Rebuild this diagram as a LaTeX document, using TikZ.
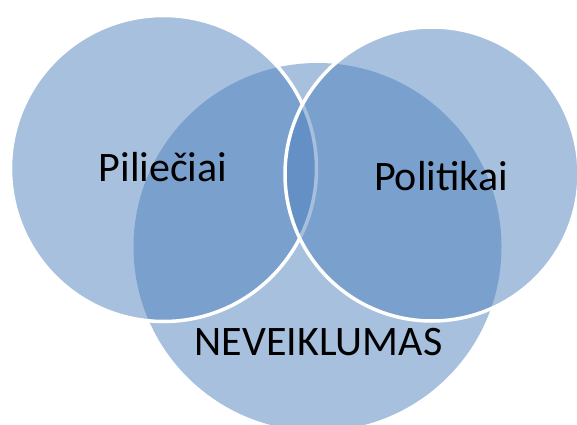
\documentclass[tikz,border=0pt]{standalone}
\usepackage{fontspec}
\setmainfont{Carlito}
\definecolor{accent}{HTML}{4F81BD}
\begin{document}
\begin{tikzpicture}[x=1pt,y=1pt,
  venn/.style={circle, inner sep=0pt, fill=accent, fill opacity=0.5},
  vennline/.style={venn, draw=white, draw opacity=1, line width=3.5pt},
  lbl/.style={inner sep=0pt, anchor=base, font=\fontsize{42}{50}\selectfont, text=black}]
\useasboundingbox (0,0) rectangle (577,424);
\node[venn, minimum size=368pt] (bottom) at (317.5,177) {};
\node[vennline, minimum size=306pt] (left) at (163.5,255.5) {};
\node[vennline, minimum size=294pt] (right) at (432,250) {};
\node[lbl] (t1) at (163,243) {Piliečiai};
\node[lbl] (t2) at (441,233.5) {Politikai};
\node[lbl] (t3) at (318.5,69) {NEVEIKLUMAS};
\end{tikzpicture}
\end{document}
